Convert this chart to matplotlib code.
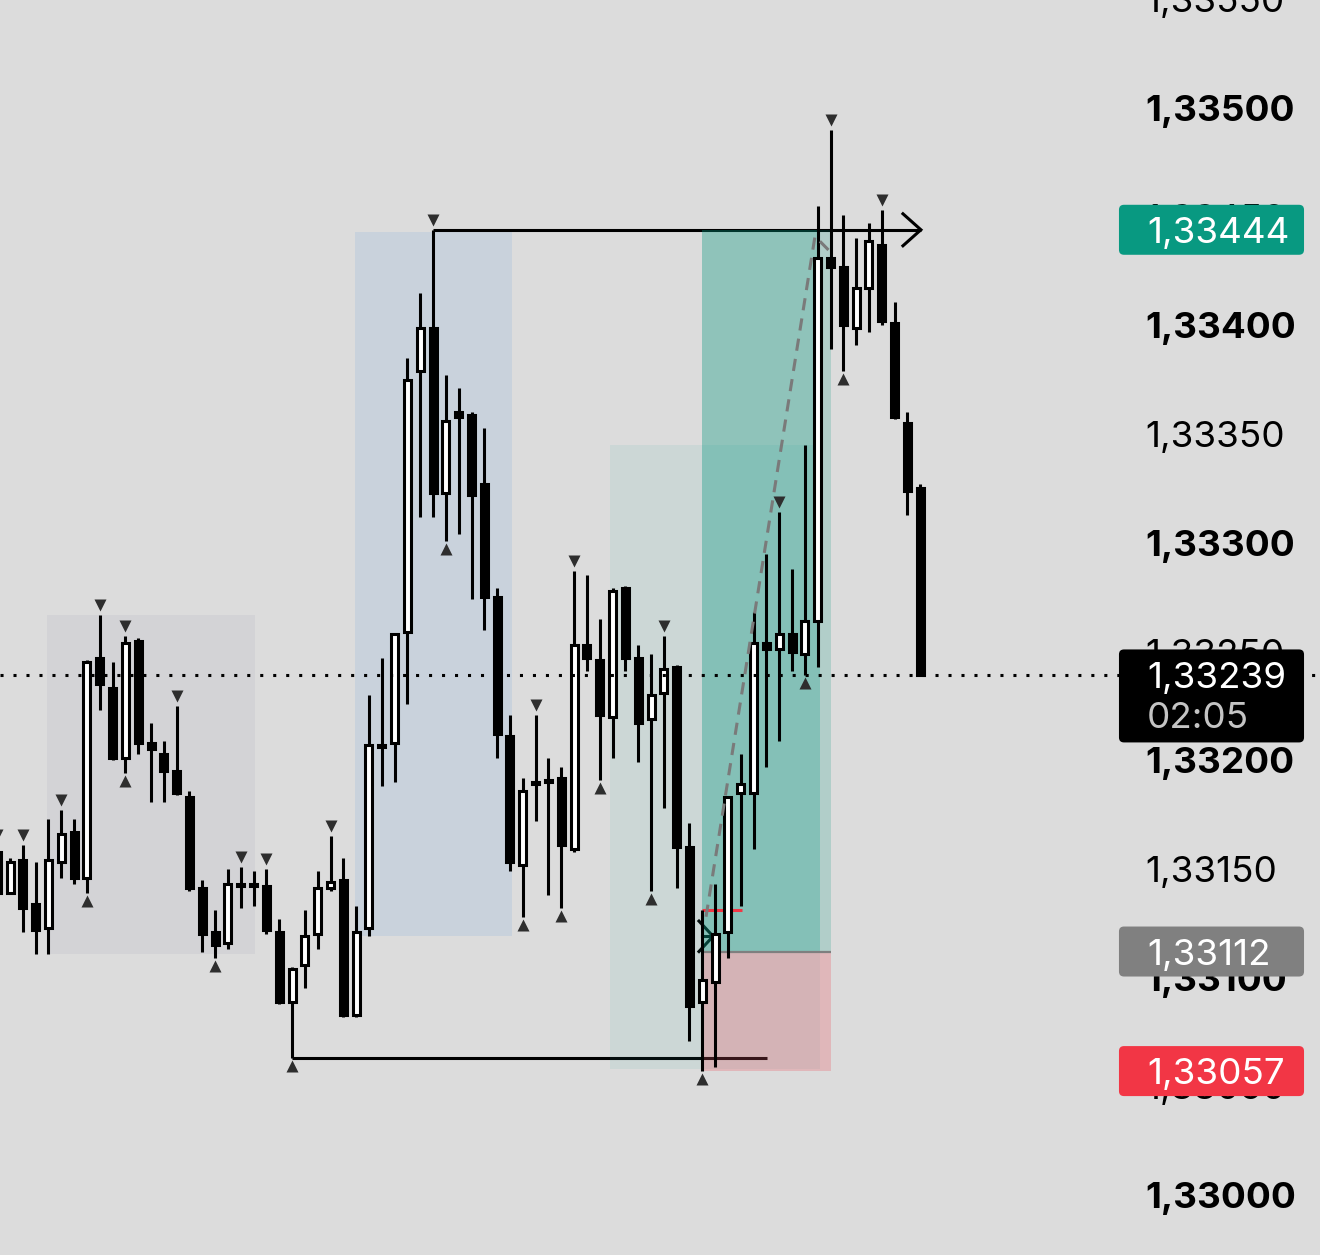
import matplotlib
matplotlib.use("Agg")
import matplotlib.pyplot as plt
import matplotlib.transforms as mtransforms
from matplotlib.patches import Rectangle, FancyBboxPatch

plt.rcParams['font.family'] = ['Inter', 'DejaVu Sans']

# candles, first one is index -1 (cut by the left edge)
first_idx = -1
opens = [1.33158, 1.33139, 1.33154, 1.33134, 1.33123, 1.33153, 1.33167, 1.33146, 1.33247, 1.33233,
         1.33201, 1.33255, 1.33208, 1.33203, 1.33195, 1.33183, 1.33141, 1.33121, 1.33116, 1.33143,
         1.33142, 1.33142, 1.33121, 1.33089, 1.33106, 1.33120, 1.33141, 1.33145, 1.33083, 1.33123,
         1.33207, 1.33208, 1.33259, 1.33379, 1.33399, 1.33323, 1.33360, 1.33359, 1.33327, 1.33275,
         1.33211, 1.33152, 1.33189, 1.33190, 1.33192, 1.33159, 1.33253, 1.33246, 1.33220, 1.33279,
         1.33247, 1.33219, 1.33231, 1.33243, 1.33160, 1.33089, 1.33098, 1.33121, 1.33185, 1.33185,
         1.33254, 1.33251, 1.33258, 1.33249, 1.33264, 1.33431, 1.33427, 1.33399, 1.33417, 1.33437,
         1.33401, 1.33355, 1.33325]
highs = [1.33161, 1.33155, 1.33161, 1.33153, 1.33173, 1.33177, 1.33173, 1.33246, 1.33267, 1.33245,
         1.33257, 1.33256, 1.33217, 1.33209, 1.33225, 1.33186, 1.33145, 1.33131, 1.33150, 1.33151,
         1.33149, 1.33150, 1.33127, 1.33105, 1.33131, 1.33149, 1.33165, 1.33155, 1.33133, 1.33230,
         1.33247, 1.33258, 1.33385, 1.33415, 1.33444, 1.33377, 1.33371, 1.33360, 1.33353, 1.33279,
         1.33221, 1.33192, 1.33221, 1.33201, 1.33197, 1.33287, 1.33285, 1.33265, 1.33279, 1.33280,
         1.33253, 1.33249, 1.33257, 1.33244, 1.33171, 1.33131, 1.33143, 1.33183, 1.33203, 1.33268,
         1.33295, 1.33314, 1.33288, 1.33345, 1.33455, 1.33490, 1.33451, 1.33440, 1.33447, 1.33453,
         1.33411, 1.33360, 1.33327]
lows = [1.33136, 1.33139, 1.33121, 1.33111, 1.33111, 1.33146, 1.33143, 1.33139, 1.33223, 1.33200,
        1.33194, 1.33203, 1.33181, 1.33181, 1.33184, 1.33140, 1.33112, 1.33109, 1.33113, 1.33132,
        1.33133, 1.33120, 1.33088, 1.33063, 1.33095, 1.33113, 1.33140, 1.33082, 1.33082, 1.33119,
        1.33188, 1.33190, 1.33226, 1.33312, 1.33312, 1.33301, 1.33304, 1.33274, 1.33260, 1.33201,
        1.33149, 1.33128, 1.33172, 1.33138, 1.33132, 1.33158, 1.33241, 1.33191, 1.33201, 1.33241,
        1.33199, 1.33140, 1.33178, 1.33141, 1.33071, 1.33057, 1.33059, 1.33109, 1.33133, 1.33159,
        1.33197, 1.33209, 1.33241, 1.33239, 1.33243, 1.33389, 1.33379, 1.33391, 1.33397, 1.33400,
        1.33357, 1.33313, 1.33239]
closes = [1.33139, 1.33153, 1.33132, 1.33122, 1.33154, 1.33166, 1.33146, 1.33245, 1.33235, 1.33201,
          1.33254, 1.33208, 1.33205, 1.33195, 1.33185, 1.33141, 1.33120, 1.33115, 1.33143, 1.33142,
          1.33143, 1.33122, 1.33089, 1.33104, 1.33119, 1.33141, 1.33144, 1.33083, 1.33121, 1.33207,
          1.33206, 1.33258, 1.33375, 1.33399, 1.33323, 1.33356, 1.33358, 1.33322, 1.33275, 1.33212,
          1.33153, 1.33186, 1.33190, 1.33191, 1.33161, 1.33253, 1.33247, 1.33221, 1.33278, 1.33247,
          1.33217, 1.33230, 1.33242, 1.33160, 1.33087, 1.33099, 1.33120, 1.33183, 1.33189, 1.33254,
          1.33251, 1.33258, 1.33250, 1.33264, 1.33431, 1.33427, 1.33400, 1.33417, 1.33439, 1.33402,
          1.33358, 1.33324, 1.33239]

swing_high_idx = [-1, 1, 4, 7, 9, 13, 18, 20, 25, 33, 41, 44, 51, 60, 64, 68]
swing_low_idx = [6, 9, 16, 22, 34, 40, 43, 46, 50, 54, 62, 65]

# zones: (left idx, right idx, bottom price, top price)
zone_grey = (2.89, 19.11, 1.33111, 1.33267)
zone_blue = (26.91, 39.16, 1.33119, 1.33443)
zone_teal = (46.8, 63.18, 1.33058, 1.33345)

# long position tool
pos_left, pos_right, pos_inner = 53.98, 64.04, 63.18
target, entry, stop = 1.33444, 1.33112, 1.33057
entry_mark = 1.33131
arrow_x = [53.74, 54.84, 53.74]
arrow_y = [1.33126, 1.33119, 1.33112]
proj_x = [54.29, 62.79, 63.96]
proj_y = [1.33128, 1.33441, 1.33434]

tick_prices = [1.33000, 1.33050, 1.33100, 1.33150, 1.33200, 1.33250,
               1.33300, 1.33350, 1.33400, 1.33450, 1.33500, 1.33550]
countdown = "02:05"

BG = '#dcdcdc'
px = 0.0000046  # price per pixel
FS = 26.5

fig = plt.figure(figsize=(13.2, 12.55), dpi=100)
fig.patch.set_facecolor(BG)
ax = fig.add_axes([0, 0, 1, 1])
ax.set_facecolor(BG)
ax.set_xlim(-0.78, 102.18)
ax.set_ylim(1.329724, 1.335497)
ax.axis('off')

# zones
for (x0, x1, y0, y1), fc in [(zone_grey, '#d3d3d6'), (zone_blue, '#c9d2dc')]:
    ax.add_patch(Rectangle((x0, y0), x1 - x0, y1 - y0, fc=fc, ec='none', zorder=1))
x0, x1, y0, y1 = zone_teal
ax.add_patch(Rectangle((x0, y0), x1 - x0, y1 - y0, fc=(0.17, 0.65, 0.61), alpha=0.09,
                       ec='none', zorder=2.2))

# lines from the swing high and the swing low
ax.hlines(target, 33, 71.05, color='black', lw=2.2, zorder=2)
ax.plot([69.65, 71.05, 69.65], [target + 16 * px, target, target - 16 * px],
        color='black', lw=2.2, zorder=2, solid_joinstyle='miter')
ax.hlines(lows[22 - first_idx], 22, 59.05, color='black', lw=2.2, zorder=2)

# entry arrow (black below the green layers)
ax.plot(arrow_x, arrow_y, color='black', lw=2.2, zorder=2)
ax.plot([pos_left, arrow_x[1]], [arrow_y[1], arrow_y[1]], color='black', lw=2.2, zorder=2)

# position tool
ax.add_patch(Rectangle((pos_left, entry), pos_right - pos_left, target - entry,
                       fc='#089981', alpha=0.2, ec='none', zorder=2.5))
ax.add_patch(Rectangle((pos_left, entry), pos_inner - pos_left, target - entry,
                       fc='#089981', alpha=0.2, ec='none', zorder=2.5))
ax.add_patch(Rectangle((pos_left, stop), pos_right - pos_left, entry - stop,
                       fc='#f23645', alpha=0.22, ec='none', zorder=2.5))
ax.hlines(entry, pos_left, pos_right, color='#7f7f7f', lw=1.6, zorder=2.6)
ax.hlines(entry_mark, pos_left, 57.1, color='#f23645', lw=2.2, zorder=3)

# candles
w = 0.546
for k in range(len(opens)):
    x = first_idx + k
    o, h, l, c = opens[k], highs[k], lows[k], closes[k]
    ax.vlines(x, l, h, color='black', lw=2.2, zorder=4)
    fc = 'white' if c >= o else 'black'
    ax.add_patch(Rectangle((x - w / 2, min(o, c)), w, max(abs(c - o), 0.000004),
                           fc=fc, ec='black', lw=2.2, zorder=5))

# projection path
ax.plot(proj_x, proj_y, color='#7a7a7a', lw=2.2, dashes=(4, 2.7), zorder=6)

# swing markers
hy = [highs[i - first_idx] + 10 * px for i in swing_high_idx]
ly = [lows[i - first_idx] - 8 * px for i in swing_low_idx]
ax.plot(swing_high_idx, hy, 'v', color='#2e2e2e', ms=8, mec='none', zorder=6)
ax.plot(swing_low_idx, ly, '^', color='#2e2e2e', ms=8, mec='none', zorder=6)

# current price line
ax.axhline(closes[-1], color='black', lw=2.2, dashes=(1, 3.25), zorder=7)

# price scale
trans = mtransforms.blended_transform_factory(ax.transAxes, ax.transData)
for p in tick_prices:
    major = abs(p * 1000 - round(p * 1000)) < 1e-6
    ax.text(0.8674, p, f"{p:.5f}".replace('.', ','), transform=trans, fontsize=FS,
            fontweight='bold' if major else 'normal', color='black',
            ha='left', va='center_baseline', zorder=8)


def tag(price, top_px, bot_px, color, text, sub=None):
    r = 5 / 1320
    asp = (5 * px) / r
    ax.add_patch(FancyBboxPatch((0.8477, price - bot_px * px), 0.1402, (top_px + bot_px) * px,
                                boxstyle=f"round,pad=0,rounding_size={r}", mutation_aspect=asp,
                                fc=color, ec='none', transform=trans, zorder=9))
    ax.text(0.8689, price, text, transform=trans, fontsize=FS, color='white',
            ha='left', va='center_baseline', zorder=10)
    if sub:
        ax.text(0.8689, price - 40 * px, sub, transform=trans, fontsize=FS, color='#c4c4c4',
                ha='left', va='center_baseline', zorder=10)


tag(target, 25, 25, '#089981', f"{target:.5f}".replace('.', ','))
tag(closes[-1], 26, 67, 'black', f"{closes[-1]:.5f}".replace('.', ','), countdown)
tag(entry, 25, 25, '#808080', f"{entry:.5f}".replace('.', ','))
tag(stop, 25, 25, '#f23645', f"{stop:.5f}".replace('.', ','))

fig.savefig('out.png', dpi=100, facecolor=BG)
